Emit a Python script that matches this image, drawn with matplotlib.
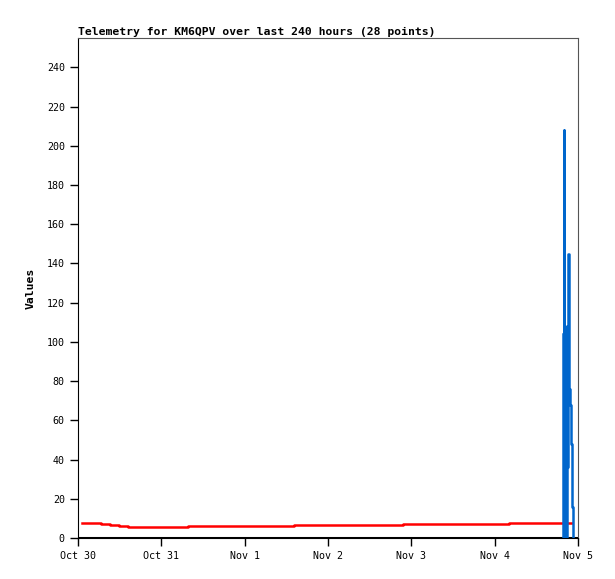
import datetime as dt
import matplotlib
matplotlib.use("Agg")
import matplotlib.pyplot as plt
import matplotlib.dates as mdates

start = dt.datetime(2023, 10, 30)

# red series: hours after Oct 30 00:00, values
red_hours = [1.15, 6.6, 9.2, 11.8, 14.4, 31.7, 62.3, 93.5, 124.1, 142.3]
red_vals = [7.8, 7.3, 6.8, 6.3, 5.8, 6.3, 6.8, 7.3, 7.8, 7.8]

# blue series
blue_hours = [139.55, 139.75, 139.85, 140.0, 140.3, 140.5, 140.75, 140.9, 141.0,
              141.15, 141.35, 141.55, 141.75, 141.95, 142.25, 142.6]
blue_vals = [104, 0, 208, 0, 104, 0, 108, 36, 108, 145, 112, 76, 68, 48, 16, 0]

# baseline series (all zero)
zero_hours = [0, 144]
zero_vals = [0, 0]

def to_dates(hours):
    return [start + dt.timedelta(hours=h) for h in hours]

mono = "DejaVu Sans Mono"

fig = plt.figure(figsize=(6.15, 5.79), dpi=100)
ax = fig.add_axes([0.1268, 0.0708, 0.8130, 0.8636])

ax.plot(to_dates(zero_hours), zero_vals, color="black", lw=2.2, zorder=2)
ax.step(to_dates(red_hours), red_vals, where="post", color="#ff0000", lw=1.8, zorder=3)
ax.step(to_dates(blue_hours), blue_vals, where="post", color="#0066cc", lw=1.8, zorder=4)

ax.set_xlim(start, start + dt.timedelta(days=6))
ax.set_ylim(0, 255)
ax.set_yticks(range(0, 241, 20))
ax.xaxis.set_major_locator(mdates.DayLocator())
ax.xaxis.set_major_formatter(mdates.DateFormatter("%b %-d"))

ax.tick_params(direction="out", length=6, width=1, colors="black", labelsize=7.2)
for lab in ax.get_xticklabels() + ax.get_yticklabels():
    lab.set_family(mono)

ax.spines["left"].set_color("black")
ax.spines["bottom"].set_color("black")
ax.spines["top"].set_color("#555555")
ax.spines["right"].set_color("#555555")

ax.set_title("Telemetry for KM6QPV over last 240 hours (28 points)", loc="left",
             family=mono, fontweight="bold", fontsize=8.2, pad=2)
ax.set_ylabel("Values", family=mono, fontweight="bold", fontsize=8.2, labelpad=8)

fig.savefig("out.png", dpi=100)
